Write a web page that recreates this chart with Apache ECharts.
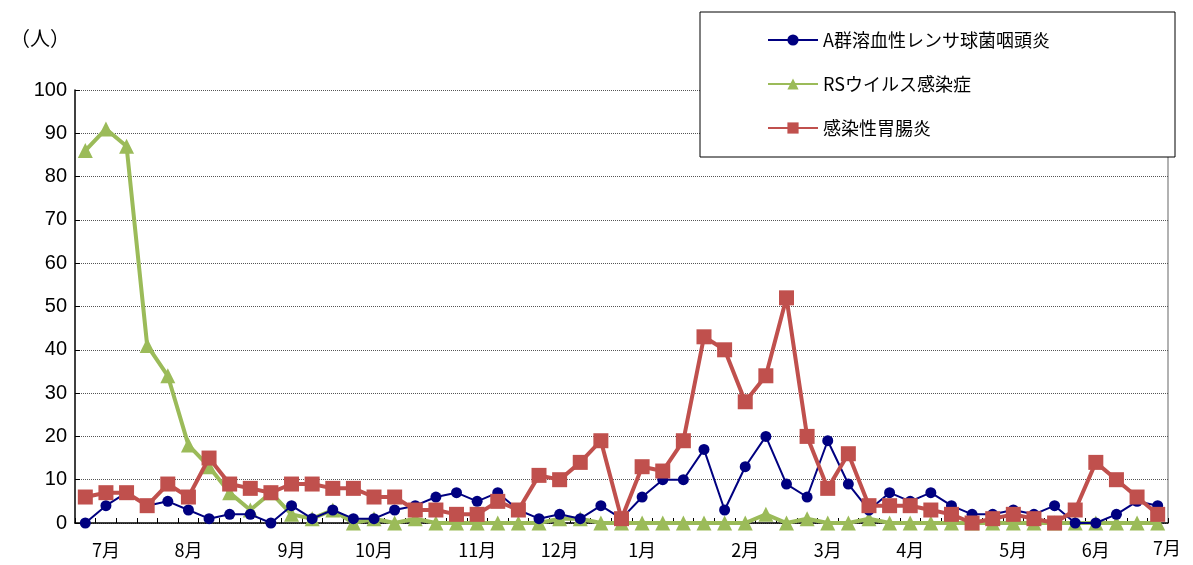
<!DOCTYPE html>
<html><head><meta charset="utf-8">
<script src="https://cdn.jsdelivr.net/npm/echarts@6/dist/echarts.min.js"></script>
<style>html,body{margin:0;padding:0;background:#fff}#c{width:1193px;height:565px}</style>
</head><body><div id="c"></div>
<script>
const monthLabels = ['', '7月', '', '', '', '8月', '', '', '', '', '9月', '', '', '', '10月', '', '', '', '', '11月', '', '', '', '12月', '', '', '', '1月', '', '', '', '', '2月', '', '', '', '3月', '', '', '', '4月', '', '', '', '', '5月', '', '', '', '6月', '', '', ''];
const categories = monthLabels.map((m, i) => 'w' + i);
const strepA = [0,4,7,4,5,3,1,2,2,0,4,1,3,1,1,3,4,6,7,5,7,3,1,2,1,4,1,6,10,10,17,3,13,20,9,6,19,9,3,7,5,7,4,2,2,3,2,4,0,0,2,5,4];
const rsv = [86,91,87,41,34,18,13,7,3,7,2,1,3,0,1,0,1,0,0,0,0,0,0,1,1,0,0,0,0,0,0,0,0,2,0,1,0,0,1,0,0,0,0,0,0,0,0,0,0,0,0,0,0];
const gastro = [6,7,7,4,9,6,15,9,8,7,9,9,8,8,6,6,3,3,2,2,5,3,11,10,14,19,1,13,12,19,43,40,28,34,52,20,8,16,4,4,4,3,2,0,1,2,1,0,3,14,10,6,2];
const yTicks = [0,10,20,30,40,50,60,70,80,90,100];
const font = '"Liberation Sans", Arial, sans-serif';
const chart = echarts.init(document.getElementById('c'));
chart.setOption({
  animation: false,
  grid: {left: 75, right: 25, top: 90, bottom: 42},
  graphic: [
    {type:'text', left: 10, top: 28, style:{text:'（人）', font:'20px "Noto Sans CJK JP"', fill:'#000'}},
    {type:'text', left: 1153, top: 539, style:{text:'7月', font:'18px "Noto Sans CJK JP"', fill:'#000'}},
    {type:'line', shape:{x1:1168, y1:90, x2:1168, y2:523}, style:{stroke:'#999', lineWidth:1.5}},
    {type:'rect', shape:{x:700, y:12, width:475, height:145}, style:{fill:'#fff', stroke:'#000', lineWidth:1}, z:5}
  ],
  legend: {
    orient:'vertical', left: 762, top: 26, itemGap: 26, itemWidth: 50, itemHeight: 14, z: 10,
    textStyle:{fontSize:18, color:'#000', fontFamily:'"Noto Sans CJK JP"'}
  },
  xAxis: {
    type:'category', data: categories, boundaryGap: true,
    axisLine:{lineStyle:{color:'#000', width:1.5}},
    axisTick:{show:true, interval:0, lineStyle:{color:'#000'}, length:5, inside:true},
    axisLabel:{interval:0, fontSize:18, color:'#000', fontFamily:'"Noto Sans CJK JP"', margin: 18,
      formatter:(v, i) => monthLabels[i]}
  },
  yAxis: {
    type:'value', min:0, max:100, interval:10,
    axisLine:{show:true, lineStyle:{color:'#000', width:1.5}},
    axisTick:{show:true, inside:true, lineStyle:{color:'#000'}},
    axisLabel:{fontSize:20, color:'#000', fontFamily:font, formatter:v => yTicks.includes(v) ? String(v) : ''},
    splitLine:{lineStyle:{color:'#555', type:'dotted', width:1}}
  },
  series: [
    {name:'A群溶血性レンサ球菌咽頭炎', type:'line', data:strepA, symbol:'circle', symbolSize:11,
     itemStyle:{color:'#000080'}, lineStyle:{color:'#000080', width:2}, z:4},
    {name:'RSウイルス感染症', type:'line', data:rsv, symbol:'triangle', symbolSize:15,
     itemStyle:{color:'#9BBB59'}, lineStyle:{color:'#9BBB59', width:4}, z:3},
    {name:'感染性胃腸炎', type:'line', data:gastro, symbol:'rect', symbolSize:15,
     itemStyle:{color:'#C0504D'}, lineStyle:{color:'#C0504D', width:4}, z:5}
  ]
});
</script></body></html>
